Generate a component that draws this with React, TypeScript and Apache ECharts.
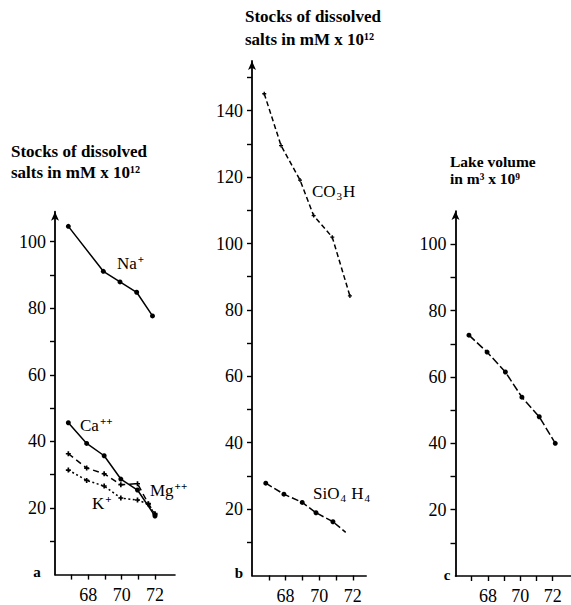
import React, { useEffect, useRef } from "react";
import * as echarts from "echarts";

// Panel a: stocks of dissolved salts (mM x 10^12)
const naYears = [66.8, 68.9, 69.9, 70.9, 71.85];
const naValues = [104.6, 91.1, 87.9, 84.8, 77.7];
const caYears = [66.8, 67.9, 68.95, 69.95, 70.95, 72.0];
const caValues = [45.6, 39.4, 35.7, 28.7, 25.4, 17.6];
const mgYears = [66.8, 67.9, 68.95, 69.95, 70.95, 71.6, 72.0];
const mgValues = [36.3, 32.0, 30.3, 27.0, 27.3, 21.3, 18.3];
const kYears = [66.8, 67.9, 68.95, 69.95, 70.95, 71.6, 72.0];
const kValues = [31.4, 28.3, 26.6, 23.0, 22.4, 21.2, 18.0];

// Panel b
const co3hYears = [66.73, 67.73, 68.86, 69.67, 70.78, 71.83];
const co3hValues = [145.1, 129.5, 119.1, 108.4, 101.9, 84.2];
const sioYears = [66.82, 67.9, 68.99, 69.81, 70.82, 71.58];
const sioValues = [27.8, 24.5, 22.0, 18.9, 16.2, 13.0];

// Panel c: lake volume (m3 x 10^9)
const lakeYears = [66.83, 67.95, 69.08, 70.1, 71.17, 72.16];
const lakeValues = [72.6, 67.5, 61.5, 53.9, 48.0, 40.0];

// Tick labels
const xTickValues = [67, 68, 69, 70, 71, 72];
const xLabelValues = [68, 70, 72];
const yTicksA = [10, 20, 30, 40, 50, 60, 70, 80, 90, 100];
const yLabelsA = [20, 40, 60, 80, 100];
const yTicksB = [10, 20, 30, 40, 50, 60, 70, 80, 90, 100, 110, 120, 130, 140, 150];
const yLabelsB = [20, 40, 60, 80, 100, 120, 140];
const yTicksC = [10, 20, 30, 40, 50, 60, 70, 80, 90, 100];
const yLabelsC = [20, 40, 60, 80, 100];

const FONT = "'Liberation Serif', 'Times New Roman', serif";
const PLUS = "path://M1,0H2V1H3V2H2V3H1V2H0V1H1Z";

const pair = (xs: number[], ys: number[]) => xs.map((x, i) => [x, ys[i]]);

export default function App() {
  const ref = useRef<HTMLDivElement>(null);
  useEffect(() => {
    if (!ref.current) return;
    const chart = echarts.init(ref.current, null, { renderer: "svg" });

    const xAxisBase = (gridIndex: number, max: number) => ({
      type: "value",
      gridIndex,
      min: 66,
      max,
      splitLine: { show: false },
      axisLine: { show: true, lineStyle: { color: "#000", width: 1.6 } },
      axisTick: {
        show: true,
        length: 5,
        lineStyle: { color: "#000", width: 1.4 },
        customValues: xTickValues,
      },
      axisLabel: {
        customValues: xLabelValues,
        margin: 11,
        color: "#000",
        fontFamily: FONT,
        fontSize: 18,
      },
    });
    const yAxisBase = (gridIndex: number, max: number, ticks: number[], labels: number[]) => ({
      type: "value",
      gridIndex,
      min: 0,
      max,
      splitLine: { show: false },
      axisLine: {
        show: true,
        symbol: ["none", "arrow"],
        symbolSize: [6, 9],
        lineStyle: { color: "#000", width: 1.8 },
      },
      axisTick: {
        show: true,
        length: 5,
        lineStyle: { color: "#000", width: 1.4 },
        customValues: ticks,
      },
      axisLabel: {
        customValues: labels,
        margin: 9,
        color: "#000",
        fontFamily: FONT,
        fontSize: 18,
      },
    });

    const line = (
      name: string,
      idx: number,
      data: any[],
      type: any,
      symbol: string,
      size: number,
    ) => ({
      name,
      type: "line",
      xAxisIndex: idx,
      yAxisIndex: idx,
      data,
      symbol,
      symbolSize: size,
      showSymbol: true,
      lineStyle: { color: "#000", width: 1.5, type },
      itemStyle: { color: "#000", borderWidth: 0 },
      emphasis: { disabled: true },
    });

    const txt = (text: string, x: number, y: number, size = 17, weight = "normal", align = "left") => ({
      type: "text",
      x,
      y,
      style: {
        text,
        fontFamily: FONT,
        fontSize: size,
        fontWeight: weight,
        fill: "#000",
        align,
        verticalAlign: "middle",
      },
    });

    // Ion label with raised or lowered small characters, as rich text
    const rich = {
      n: { fontFamily: FONT, fontSize: 17, color: "#000", lineHeight: 20, verticalAlign: "middle" },
      sup: { fontFamily: FONT, fontSize: 11, fontWeight: "bold", color: "#000", lineHeight: 20, verticalAlign: "top", padding: [0, 0, 6, 1] },
      sub: { fontFamily: FONT, fontSize: 11, color: "#000", lineHeight: 20, verticalAlign: "bottom", padding: [6, 1, 0, 1] },
    };
    const ion = (text: string, x: number, y: number) => ({
      type: "text",
      x,
      y,
      style: {
        text,
        rich,
        fontFamily: FONT,
        fontSize: 17,
        fill: "#000",
        align: "left",
        verticalAlign: "middle",
      },
    });

    const sioData: any[] = pair(sioYears, sioValues).map((p, i) =>
      i === sioYears.length - 1 ? { value: p, symbol: "none" } : p,
    );

    chart.setOption({
      animation: false,
      backgroundColor: "#fff",
      grid: [
        { left: 55, top: 211.7, width: 120, height: 362.9 },
        { left: 252, top: 60.9, width: 114.2, height: 514.6 },
        { left: 455.5, top: 211.1, width: 115, height: 364.9 },
      ],
      xAxis: [xAxisBase(0, 73.2), xAxisBase(1, 72.8), xAxisBase(2, 73.1)],
      yAxis: [
        yAxisBase(0, 109, yTicksA, yLabelsA),
        yAxisBase(1, 155, yTicksB, yLabelsB),
        yAxisBase(2, 110, yTicksC, yLabelsC),
      ],
      series: [
        line("Na+", 0, pair(naYears, naValues), "solid", "circle", 5),
        line("Ca++", 0, pair(caYears, caValues), "solid", "circle", 5),
        line("Mg++", 0, pair(mgYears, mgValues), [6, 4], PLUS, 5),
        line("K+", 0, pair(kYears, kValues), [2, 2.5], PLUS, 5),
        line("CO3H", 1, pair(co3hYears, co3hValues), [5, 3], PLUS, 4),
        line("SiO4H4", 1, sioData, [7, 3], "circle", 5),
        line("Lake volume", 2, pair(lakeYears, lakeValues), [8, 3], "circle", 5),
      ],
      graphic: [
        txt("Stocks of dissolved", 11, 151, 17, "bold"),
        txt("salts in mM x 10¹²", 11, 172, 17, "bold"),
        txt("Stocks of dissolved", 245, 16, 17, "bold"),
        txt("salts in mM x 10¹²", 245, 39, 17, "bold"),
        txt("Lake volume", 450, 161, 15.5, "bold"),
        txt("in m³ x 10⁹", 450, 178, 15.5, "bold"),
        ion("{n|Na}{sup|+}", 117, 263),
        ion("{n|Ca}{sup|++}", 80, 425),
        ion("{n|Mg}{sup|++}", 150, 490),
        ion("{n|K}{sup|+}", 92, 503),
        ion("{n|CO}{sub|3}{n|H}", 312, 191),
        ion("{n|SiO}{sub|4}{n| H}{sub|4}", 313, 493),
        txt("a", 37, 572, 15, "bold", "center"),
        txt("b", 239, 573, 15, "bold", "center"),
        txt("c", 447, 575, 15, "bold", "center"),
      ],
    });
    return () => chart.dispose();
  }, []);
  return (
    <div
      ref={ref}
      style={{ position: "fixed", left: 0, top: 0, width: 571, height: 605, background: "#fff" }}
    />
  );
}
